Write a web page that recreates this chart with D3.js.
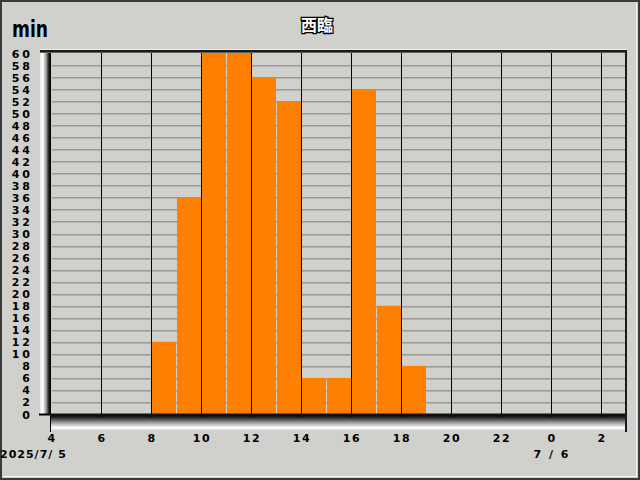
<!DOCTYPE html>
<html><head><meta charset="utf-8">
<script src="https://cdn.jsdelivr.net/npm/d3@7"></script>
<style>html,body{margin:0;padding:0;background:#d0d1cd;}svg{display:block;}</style>
</head><body>
<script>
const title = "西臨";
const unitLabel = "min";
const hours = [8, 9, 10, 11, 12, 13, 14, 15, 16, 17, 18];
const values = [12, 36, 60, 60, 56, 52, 6, 6, 54, 18, 8];
const xTickHours = [4, 6, 8, 10, 12, 14, 16, 18, 20, 22, 24, 26];
const xTickLabels = ["4", "6", "8", "10", "12", "14", "16", "18", "20", "22", "0", "2"];
const yTicks = d3.range(0, 61, 2);
const dateLabels = [{h: 4, text: "2025/7/ 5"}, {h: 24, text: "7 / 6"}];

const W = 640, H = 480;
const svg = d3.select("body").append("svg").attr("width", W).attr("height", H);
const defs = svg.append("defs");
const gl = defs.append("linearGradient").attr("id", "gl").attr("x1", 0).attr("x2", 1).attr("y1", 0).attr("y2", 0);
gl.append("stop").attr("offset", 0).attr("stop-color", "#e8e8e8");
gl.append("stop").attr("offset", 0.25).attr("stop-color", "#ffffff");
gl.append("stop").attr("offset", 0.55).attr("stop-color", "#a0a0a0");
gl.append("stop").attr("offset", 0.8).attr("stop-color", "#202020");
gl.append("stop").attr("offset", 1).attr("stop-color", "#000000");
const gb = defs.append("linearGradient").attr("id", "gb").attr("x1", 0).attr("x2", 0).attr("y1", 0).attr("y2", 1);
gb.append("stop").attr("offset", 0).attr("stop-color", "#000000");
gb.append("stop").attr("offset", 0.2).attr("stop-color", "#202020");
gb.append("stop").attr("offset", 0.55).attr("stop-color", "#a0a0a0");
gb.append("stop").attr("offset", 0.85).attr("stop-color", "#ffffff");
gb.append("stop").attr("offset", 1).attr("stop-color", "#e0e0e0");

// frame
svg.append("rect").attr("x", 0).attr("y", 0).attr("width", W).attr("height", H).attr("fill", "#d0d1cd");
svg.append("rect").attr("x", 1).attr("y", 1).attr("width", W - 2).attr("height", H - 2)
  .attr("fill", "none").attr("stroke", "#3a3a3a").attr("stroke-width", 2);
svg.append("path").attr("d", "M3,476.5H636.5V3").attr("fill", "none").attr("stroke", "#f4f4f4").attr("stroke-width", 1);

const x = d3.scaleLinear().domain([4, 27]).range([51, 626]);
const y = d3.scaleLinear().domain([0, 60]).range([414, 53]);

// 3D bars
svg.append("rect").attr("x", 40).attr("y", 50).attr("width", 11).attr("height", 365).attr("fill", "url(#gl)");
svg.append("rect").attr("x", 40).attr("y", 414).attr("width", 587).attr("height", 16).attr("fill", "url(#gb)");
svg.append("rect").attr("x", 40).attr("y", 414).attr("width", 11).attr("height", 16).attr("fill", "#d0d1cd");

// plot bg
svg.append("rect").attr("x", 51).attr("y", 53).attr("width", 575).attr("height", 361).attr("fill", "#d0d1cd");

// horizontal grid
svg.append("g").selectAll("line").data(yTicks.filter(d => d > 0 && d < 60)).join("line")
  .attr("x1", 52).attr("x2", 626).attr("y1", d => Math.round(y(d)) + 0.5).attr("y2", d => Math.round(y(d)) + 0.5)
  .attr("stroke", "#999996").attr("stroke-width", 1);
svg.append("g").selectAll("line").data(yTicks.filter(d => d > 0 && d < 60)).join("line")
  .attr("x1", 52).attr("x2", 626).attr("y1", d => Math.round(y(d)) + 1.5).attr("y2", d => Math.round(y(d)) + 1.5)
  .attr("stroke", "#b4b4b2").attr("stroke-width", 1);

// bars
svg.append("g").selectAll("rect").data(hours.map((h, i) => ({h, v: values[i]}))).join("rect")
  .attr("x", d => x(d.h) + 1).attr("width", d => x(d.h + 1) - x(d.h) - 1)
  .attr("y", d => y(d.v)).attr("height", d => y(0) - y(d.v))
  .attr("fill", "#ff8000");

// vertical grid
svg.append("g").selectAll("line").data(xTickHours.filter(h => h > 4)).join("line")
  .attr("x1", d => x(d) + 0.5).attr("x2", d => x(d) + 0.5).attr("y1", 53).attr("y2", 417)
  .attr("stroke", "#000").attr("stroke-width", 1);

// plot borders
svg.append("line").attr("x1", 40).attr("x2", 627).attr("y1", 49.5).attr("y2", 49.5).attr("stroke", "#f0f0f0");
svg.append("line").attr("x1", 40).attr("x2", 627).attr("y1", 51).attr("y2", 51).attr("stroke", "#1a1a1a").attr("stroke-width", 2);
svg.append("line").attr("x1", 40).attr("x2", 627).attr("y1", 52.5).attr("y2", 52.5).attr("stroke", "#606060");
svg.append("line").attr("x1", 626).attr("x2", 626).attr("y1", 50).attr("y2", 432).attr("stroke", "#1a1a1a").attr("stroke-width", 2);
svg.append("line").attr("x1", 51).attr("x2", 626).attr("y1", 414.5).attr("y2", 414.5).attr("stroke", "#101010").attr("stroke-width", 2);
svg.append("line").attr("x1", 50.5).attr("x2", 50.5).attr("y1", 53).attr("y2", 432).attr("stroke", "#000").attr("stroke-width", 1);
svg.append("line").attr("x1", 39).attr("x2", 51).attr("y1", 414.5).attr("y2", 414.5).attr("stroke", "#000").attr("stroke-width", 2);

// y labels
svg.append("g").selectAll("text").data(yTicks).join("text")
  .attr("x", 33).attr("y", d => y(d) + 4.5).attr("text-anchor", "end")
  .attr("font-family", "DejaVu Sans").attr("font-weight", "bold").attr("font-size", 11)
  .attr("letter-spacing", 3).attr("fill", "#000").text(d => String(d));

// x labels
svg.append("g").selectAll("text").data(xTickHours).join("text")
  .attr("x", d => x(d) + 1).attr("y", 442).attr("text-anchor", "middle")
  .attr("font-family", "DejaVu Sans").attr("font-weight", "bold").attr("font-size", 11)
  .attr("letter-spacing", 1.5).attr("fill", "#000").text((d, i) => xTickLabels[i]);

svg.append("text").attr("x", 0).attr("y", 458)
  .attr("font-family", "DejaVu Sans").attr("font-weight", "bold").attr("font-size", 11)
  .attr("letter-spacing", 1).text(dateLabels[0].text);
svg.append("text").attr("x", x(dateLabels[1].h) + 1).attr("y", 458).attr("text-anchor", "middle")
  .attr("font-family", "DejaVu Sans").attr("font-weight", "bold").attr("font-size", 11)
  .attr("letter-spacing", 2).text(dateLabels[1].text);

// unit
svg.append("text").attr("x", 12).attr("y", 37)
  .attr("font-family", "DejaVu Sans").attr("font-weight", "bold").attr("font-size", 23)
  .attr("textLength", 36).attr("lengthAdjust", "spacingAndGlyphs").text(unitLabel);

// title
svg.append("text").attr("x", 317).attr("y", 31).attr("text-anchor", "middle")
  .attr("font-family", "Noto Sans CJK JP").attr("font-weight", "bold").attr("font-size", 16)
  .attr("fill", "#fff").attr("stroke", "#000").attr("stroke-width", 2.5).attr("paint-order", "stroke")
  .text(title);
</script>
</body></html>
